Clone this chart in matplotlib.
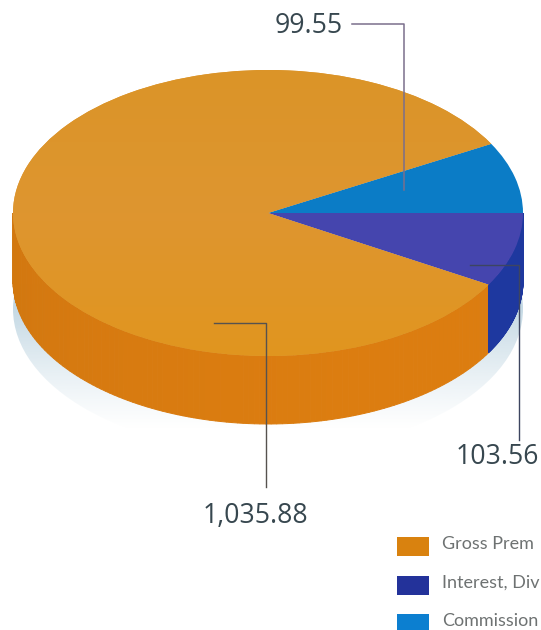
import numpy as np
import matplotlib
matplotlib.use('Agg')
import matplotlib.pyplot as plt
from matplotlib.colors import LinearSegmentedColormap, to_rgb
from matplotlib.patches import Ellipse, Rectangle

categories = ['Gross Prem', 'Interest, Div', 'Commission']
values = [1035.88, 103.56, 99.55]
value_labels = ['1,035.88', '103.56', '99.55']

top_colors = ['#DE9630', '#4545AE', '#0B7CC6']
side_colors = ['#DA7C10', '#1E389E', '#0B7CC6']
legend_colors = ['#D9820F', '#23329A', '#0C7FD0']

W, H = 541, 630
CX, CY, RX, RY, DEPTH = 268, 213, 255, 143, 68

plt.rcParams['font.family'] = ['Open Sans', 'DejaVu Sans']
fig = plt.figure(figsize=(W / 100, H / 100), dpi=100, facecolor='white')

# Pie axes: one data unit is the radius, squashed to get the tilt
ax = fig.add_axes([0, 0, 1, 1])
startangle = values[2] / sum(values) * 360
wedges, _ = ax.pie(values, colors=top_colors, startangle=startangle, radius=1,
                   wedgeprops={'linewidth': 0, 'zorder': 5})
ax.set_aspect('auto')
xlim = (-CX / RX, (W - CX) / RX)
ylim = (-(H - CY) / RY, CY / RY)
ax.axis('off')
depth = DEPTH / RY

# Soft shadow under the pie, fades out downwards
shadow_drop = 28 / RY
fade = np.zeros((200, 1, 4))
fade[:, :, :3] = to_rgb('#B7D0DE')
fade[:, 0, 3] = np.clip(np.linspace(0, 1, 200) * 1.15 - 0.15, 0, 1) ** 1.2
shadow = ax.imshow(fade, extent=(-1.1, 1.1, -1 - depth - shadow_drop, -0.5),
                   origin='lower', aspect='auto', zorder=1)
clip_el = Ellipse((0, -depth - shadow_drop), 2, 2, fc='none', ec='none',
                  transform=ax.transData)
ax.add_patch(clip_el)
shadow.set_clip_path(clip_el)

# Side wall, only the front half of the disc shows
for wedge, col in zip(wedges[:2], side_colors[:2]):
    t1, t2 = wedge.theta1, wedge.theta2
    t1 = max(t1, 180)
    ang = np.radians(np.linspace(t1, t2, 120))
    for a0, a1 in zip(ang[:-1], ang[1:]):
        shade = 0.98 + 0.03 * np.cos(a0 + 0.9)
        rgb = np.clip(np.array(to_rgb(col)) * shade, 0, 1)
        xs = [np.cos(a0), np.cos(a1), np.cos(a1), np.cos(a0)]
        ys = [np.sin(a0), np.sin(a1), np.sin(a1) - depth, np.sin(a0) - depth]
        ax.fill(xs, ys, fc=rgb, ec=rgb, lw=0.7, zorder=3)

# Light falling across the orange top
cmap = LinearSegmentedColormap.from_list('top', ['#E1951F', '#DE9630', '#DB9428'])
grad = np.linspace(0, 1, 200).reshape(-1, 1)
im = ax.imshow(grad, extent=(-1, 1, -1, 1), cmap=cmap, aspect='auto',
               origin='lower', zorder=6)
im.set_clip_path(wedges[0])
ax.set_xlim(*xlim)
ax.set_ylim(*ylim)

# Overlay axes in picture pixels for leaders, labels and legend
ov = fig.add_axes([0, 0, 1, 1], facecolor='none')
ov.set_xlim(0, W)
ov.set_ylim(H, 0)
ov.axis('off')

ov.plot([352, 404, 404], [24, 24, 190], color='#7A6F8C', lw=1.1, zorder=8)
ov.plot([470, 519, 519], [265, 265, 440], color='#3D4560', lw=1.0, zorder=8)
ov.plot([214, 266, 266], [323, 323, 487], color='#56524F', lw=1.0, zorder=8)

text_col = '#37474F'
ov.text(308.5, 26, value_labels[2], ha='center', va='center', fontsize=19.2, color=text_col)
ov.text(497, 457, value_labels[1], ha='center', va='center', fontsize=19.2, color=text_col)
ov.text(255.5, 516, value_labels[0], ha='center', va='center', fontsize=19.2, color=text_col)

for name, col, y in zip(categories, legend_colors, [537, 576, 614]):
    ov.add_patch(Rectangle((397, y), 32, 19, fc=col, ec='none'))
    ov.text(442, y + 7, name, ha='left', va='center', fontsize=13, color='#6E7272',
            family=['Lato', 'DejaVu Sans'])

fig.savefig('out.png', dpi=100)
